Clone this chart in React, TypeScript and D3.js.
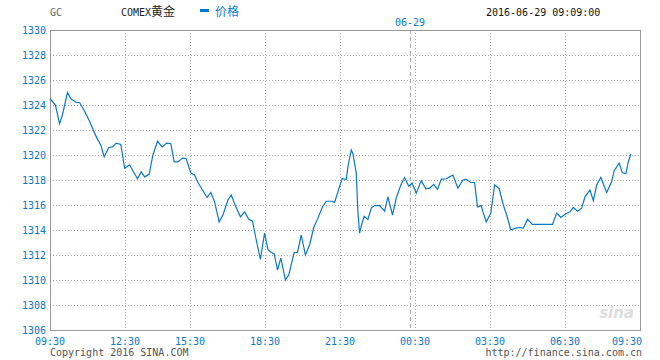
import React, { useEffect, useRef } from 'react'
import * as d3 from 'd3'

// minutes since 09:30 and COMEX gold price
const minutes = [
  0, 13, 23, 29, 42, 50, 63, 71, 83, 95, 105, 114, 122, 130, 141, 150, 159, 170, 179, 191,
  210, 219, 227, 238, 247, 258, 269, 280, 290, 298, 307, 318, 327, 338, 347, 355, 366, 377, 386, 395,
  406, 415, 427, 435, 446, 457, 467, 477, 486, 495, 505, 515, 523, 531, 538, 546, 554, 565, 573, 586,
  594, 603, 613, 623, 633, 643, 654, 663, 678, 683, 691, 701, 711, 715, 723, 727, 735, 739, 743, 747,
  754, 763, 771, 779, 791, 803, 811, 822, 831, 842, 851, 861, 869, 879, 891, 902, 911, 921, 930, 939,
  951, 959, 967, 979, 991, 999, 1010, 1019, 1026, 1035, 1039, 1047, 1058, 1067, 1074, 1078, 1088, 1096, 1106, 1118,
  1128, 1136, 1146, 1158, 1206, 1216, 1226, 1238, 1248, 1256, 1266, 1276, 1284, 1296, 1304, 1312, 1322, 1336, 1348, 1354,
  1366, 1373, 1382, 1388, 1394,
]
const prices = [
  1324.5, 1324.0, 1322.5, 1323.1, 1325.0, 1324.5, 1324.2, 1324.2, 1323.5, 1322.7, 1321.9, 1321.25, 1320.8, 1319.85, 1320.6, 1320.65, 1320.95, 1320.85, 1318.95, 1319.2,
  1318.1, 1318.65, 1318.25, 1318.45, 1320.0, 1321.1, 1320.65, 1320.95, 1320.9, 1319.45, 1319.45, 1319.75, 1319.7, 1318.55, 1318.4, 1317.8, 1317.2, 1316.6, 1317.0, 1316.25,
  1314.65, 1315.2, 1316.4, 1316.8, 1315.85, 1315.05, 1315.45, 1314.85, 1314.7, 1313.2, 1311.65, 1313.75, 1312.45, 1312.2, 1312.1, 1310.8, 1311.75, 1310.0, 1310.4, 1312.2,
  1312.2, 1313.6, 1312.0, 1312.8, 1314.2, 1314.95, 1315.85, 1316.3, 1316.3, 1316.2, 1317.05, 1318.1, 1318.05, 1319.05, 1320.4, 1320.1, 1318.55, 1315.45, 1313.75, 1314.3,
  1315.1, 1314.85, 1315.75, 1315.95, 1315.95, 1315.5, 1316.65, 1315.2, 1316.55, 1317.6, 1318.2, 1317.5, 1317.75, 1316.95, 1317.95, 1317.3, 1317.35, 1317.65, 1317.25, 1318.05,
  1318.1, 1318.25, 1318.4, 1317.35, 1318.0, 1318.05, 1317.8, 1317.8, 1315.85, 1315.95, 1315.45, 1314.65, 1315.35, 1317.6, 1317.45, 1317.3, 1316.0, 1315.2, 1314.0, 1314.15,
  1314.2, 1314.15, 1314.85, 1314.45, 1314.45, 1315.35, 1315.0, 1315.3, 1315.45, 1315.8, 1315.5, 1315.75, 1316.65, 1317.2, 1316.35, 1317.6, 1318.2, 1317.0, 1317.85, 1318.75,
  1319.35, 1318.6, 1318.5, 1319.45, 1320.1,
]
const yTicks = [1306, 1308, 1310, 1312, 1314, 1316, 1318, 1320, 1322, 1324, 1326, 1328, 1330]
const xTickLabels = ['09:30', '12:30', '15:30', '18:30', '21:30', '00:30', '03:30', '06:30', '09:30']
const xTickMinutes = [0, 180, 336, 516, 696, 876, 1056, 1236, 1416]
const dayBreakMinute = 864
const dayBreakLabel = '06-29'

const BLUE = '#0a78c8'
const MONO = '"DejaVu Sans Mono", "Liberation Mono", monospace'
const CJK = '"Noto Sans CJK SC", sans-serif'

const GoldChart = (props: IGoldChartProps) => {
  const ref = useRef<SVGSVGElement>(null)
  useEffect(() => {
    draw()
  })
  const draw = () => {
    const svg = d3.select(ref.current)
    svg.selectAll('*').remove()
    const left = props.left
    const right = props.width - props.right
    const top = props.top
    const bottom = props.height - props.bottom

    const x = d3.scaleLinear().domain([0, 1416]).range([left, right])
    const y = d3.scaleLinear().domain([1306, 1330]).range([bottom, top])

    // horizontal grid
    svg
      .append('g')
      .selectAll('line')
      .data(yTicks.slice(1, -1))
      .enter()
      .append('line')
      .attr('x1', left)
      .attr('x2', right)
      .attr('y1', (d) => Math.round(y(d)) + 0.5)
      .attr('y2', (d) => Math.round(y(d)) + 0.5)
      .attr('stroke', '#aaa')
      .attr('stroke-dasharray', '1,2')

    // vertical grid
    svg
      .append('g')
      .selectAll('line')
      .data(xTickMinutes.slice(1, -1))
      .enter()
      .append('line')
      .attr('x1', (d) => Math.round(x(d)) + 0.5)
      .attr('x2', (d) => Math.round(x(d)) + 0.5)
      .attr('y1', top)
      .attr('y2', bottom)
      .attr('stroke', '#aaa')
      .attr('stroke-dasharray', '1,2')

    // day break
    svg
      .append('line')
      .attr('x1', Math.round(x(dayBreakMinute)) + 0.5)
      .attr('x2', Math.round(x(dayBreakMinute)) + 0.5)
      .attr('y1', top)
      .attr('y2', bottom)
      .attr('stroke', '#aaa')
      .attr('stroke-dasharray', '4,3')
    svg
      .append('text')
      .attr('x', x(dayBreakMinute))
      .attr('y', 26)
      .attr('text-anchor', 'middle')
      .attr('fill', BLUE)
      .style('font', `10px ${MONO}`)
      .text(dayBreakLabel)

    // frame
    svg
      .append('rect')
      .attr('x', left + 0.5)
      .attr('y', top + 0.5)
      .attr('width', right - left)
      .attr('height', bottom - top)
      .attr('fill', 'none')
      .attr('stroke', '#999')

    // watermark
    svg
      .append('text')
      .attr('x', right - 6)
      .attr('y', bottom - 12)
      .attr('text-anchor', 'end')
      .attr('fill', '#ddd')
      .style('font', 'italic bold 15px "DejaVu Sans", sans-serif')
      .text('sina')

    // price line
    const pts = minutes.map((m, i) => [m, prices[i]] as [number, number])
    const line = d3
      .line<[number, number]>()
      .x((d) => x(d[0]))
      .y((d) => y(d[1]))
    svg
      .append('path')
      .datum(pts)
      .attr('d', line)
      .attr('fill', 'none')
      .attr('stroke', BLUE)
      .attr('stroke-width', 1.2)

    // y labels
    svg
      .append('g')
      .selectAll('text')
      .data(yTicks)
      .enter()
      .append('text')
      .attr('x', left - 4)
      .attr('y', (d) => y(d) + 4)
      .attr('text-anchor', 'end')
      .attr('fill', BLUE)
      .style('font', `10px ${MONO}`)
      .text((d) => String(d))

    // x labels
    svg
      .append('g')
      .selectAll('text')
      .data(xTickLabels)
      .enter()
      .append('text')
      .attr('x', (d, i) => (i === xTickLabels.length - 1 ? x(xTickMinutes[i]) + 2 : x(xTickMinutes[i])))
      .attr('y', 345)
      .attr('text-anchor', (d, i) => (i === xTickLabels.length - 1 ? 'end' : 'middle'))
      .attr('fill', BLUE)
      .style('font', `10px ${MONO}`)
      .text((d) => d)

    // header
    svg.append('text').attr('x', 50).attr('y', 16).attr('fill', '#666').style('font', `10px ${MONO}`).text('GC')
    svg
      .append('text')
      .attr('x', 121)
      .attr('y', 16)
      .attr('fill', '#222')
      .style('font', `10px ${MONO}`)
      .text('COMEX')
      .append('tspan')
      .style('font', `12px ${CJK}`)
      .text('黄金')
    svg
      .append('rect')
      .attr('x', 200)
      .attr('y', 9)
      .attr('width', 9)
      .attr('height', 3)
      .attr('fill', BLUE)
    svg
      .append('text')
      .attr('x', 215)
      .attr('y', 16)
      .attr('fill', BLUE)
      .style('font', `12px ${CJK}`)
      .text('价格')
    svg
      .append('text')
      .attr('x', 486)
      .attr('y', 16)
      .attr('fill', '#111')
      .style('font', `10px ${MONO}`)
      .text('2016-06-29 09:09:00')

    // footer
    svg
      .append('text')
      .attr('x', 50)
      .attr('y', 356)
      .attr('fill', '#555')
      .style('font', `10px ${MONO}`)
      .text('Copyright 2016 SINA.COM')
    svg
      .append('text')
      .attr('x', 642)
      .attr('y', 356)
      .attr('text-anchor', 'end')
      .attr('fill', '#555')
      .style('font', `10px ${MONO}`)
      .text('http://finance.sina.com.cn')
  }

  return (
    <svg
      ref={ref}
      width={props.width}
      height={props.height}
      style={{ position: 'absolute', left: 0, top: 0, background: '#fff' }}
    />
  )
}

interface IGoldChartProps {
  width: number
  height: number
  top: number
  right: number
  bottom: number
  left: number
}

export default function App() {
  return <GoldChart width={660} height={360} top={30} right={20} bottom={30} left={50} />
}
